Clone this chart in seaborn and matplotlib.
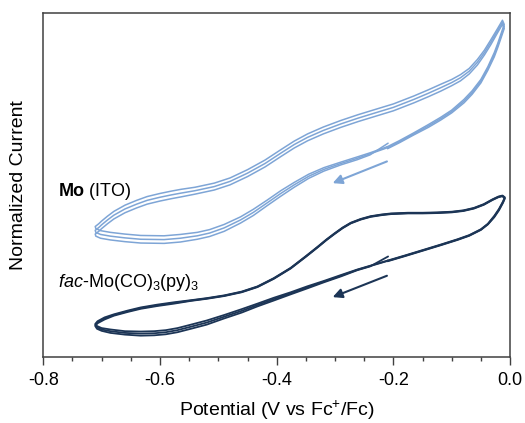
import numpy as np
import pandas as pd
import matplotlib
matplotlib.use("Agg")
import matplotlib.pyplot as plt
import seaborn as sns

# ---- data (potential in V vs Fc+/Fc, current normalized 0..1) ----
# Mo (ITO): one CV loop, cathodic sweep from -0.21 V, anodic sweep, return to -0.21 V
ito_cath_v = [-0.210, -0.240, -0.262, -0.290, -0.319, -0.345, -0.370, -0.393, -0.416, -0.440,
              -0.462, -0.490, -0.515, -0.536, -0.565, -0.593, -0.633, -0.660, -0.685, -0.702,
              -0.710, -0.711]
ito_cath_i = [0.608, 0.590, 0.577, 0.562, 0.545, 0.525, 0.500, 0.475, 0.448, 0.420,
              0.398, 0.375, 0.360, 0.352, 0.345, 0.341, 0.342, 0.346, 0.351, 0.356,
              0.362, 0.368]
ito_anod_v = [-0.705, -0.700, -0.690, -0.679, -0.660, -0.640, -0.622, -0.600, -0.580, -0.564,
              -0.540, -0.507, -0.480, -0.450, -0.420, -0.393, -0.370, -0.347, -0.320, -0.290,
              -0.260, -0.233, -0.200, -0.165, -0.140, -0.119, -0.100, -0.085, -0.070, -0.056,
              -0.044, -0.033, -0.022, -0.013]
ito_anod_i = [0.376, 0.384, 0.398, 0.412, 0.430, 0.444, 0.455, 0.464, 0.471, 0.476,
              0.483, 0.495, 0.510, 0.534, 0.562, 0.592, 0.617, 0.638, 0.658, 0.677,
              0.694, 0.708, 0.725, 0.748, 0.766, 0.782, 0.797, 0.811, 0.830, 0.856,
              0.884, 0.914, 0.946, 0.972]
ito_back_v = [-0.010, -0.015, -0.021, -0.027, -0.038, -0.050, -0.065, -0.079, -0.100, -0.119,
              -0.140, -0.165, -0.190, -0.210]
ito_back_i = [0.960, 0.935, 0.905, 0.878, 0.838, 0.801, 0.768, 0.743, 0.713, 0.692,
              0.671, 0.648, 0.625, 0.608]
# separation between successive cycles
ito_cath_spread = [0.003, 0.003, 0.004, 0.004, 0.005, 0.006, 0.007, 0.008, 0.008, 0.009,
                   0.009, 0.010, 0.010, 0.010, 0.011, 0.011, 0.011, 0.011, 0.011, 0.011,
                   0.011, 0.011]
ito_anod_spread = [0.011] * 10 + [0.010] * 16 + [0.009, 0.009, 0.008, 0.008, 0.007, 0.007,
                                                 0.006, 0.006]
ito_back_spread = [0.006, 0.006, 0.006, 0.006, 0.005, 0.005, 0.005, 0.005, 0.004, 0.004,
                   0.004, 0.003, 0.003, 0.003]
ito_start = (-0.209, 0.621)

# fac-Mo(CO)3(py)3
fac_cath_v = [-0.210, -0.240, -0.262, -0.290, -0.319, -0.348, -0.376, -0.405, -0.433, -0.460,
              -0.490, -0.520, -0.547, -0.570, -0.590, -0.610, -0.633, -0.660, -0.685, -0.700,
              -0.708, -0.711]
fac_cath_i = [0.279, 0.264, 0.253, 0.236, 0.219, 0.202, 0.185, 0.168, 0.151, 0.134,
              0.117, 0.100, 0.088, 0.078, 0.072, 0.069, 0.068, 0.070, 0.075, 0.080,
              0.086, 0.093]
fac_anod_v = [-0.707, -0.695, -0.679, -0.655, -0.633, -0.605, -0.576, -0.547, -0.520, -0.490,
              -0.460, -0.433, -0.405, -0.376, -0.350, -0.330, -0.315, -0.301, -0.287, -0.273,
              -0.256, -0.239, -0.220, -0.204, -0.175, -0.150, -0.125, -0.100, -0.080, -0.062,
              -0.045, -0.030, -0.020, -0.013]
fac_anod_i = [0.101, 0.112, 0.122, 0.133, 0.142, 0.150, 0.157, 0.164, 0.170, 0.178,
              0.189, 0.204, 0.228, 0.258, 0.292, 0.319, 0.340, 0.358, 0.375, 0.389,
              0.400, 0.408, 0.413, 0.416, 0.418, 0.418, 0.419, 0.421, 0.425, 0.432,
              0.443, 0.457, 0.465, 0.468]
fac_back_v = [-0.009, -0.012, -0.019, -0.027, -0.038, -0.050, -0.070, -0.090, -0.118, -0.147,
              -0.180, -0.210]
fac_back_i = [0.462, 0.450, 0.428, 0.408, 0.386, 0.370, 0.353, 0.341, 0.326, 0.311,
              0.294, 0.279]
fac_cath_spread = [0.001, 0.001, 0.001, 0.002, 0.002, 0.003, 0.003, 0.004, 0.004, 0.005,
                   0.005, 0.006, 0.006, 0.006, 0.006, 0.006, 0.006, 0.005, 0.005, 0.004,
                   0.004, 0.003]
fac_anod_spread = [0.003, 0.003, 0.002, 0.002, 0.002, 0.002, 0.002] + [0.001] * 27
fac_back_spread = [0.002, 0.002, 0.002, 0.002] + [0.001] * 8
fac_start = (-0.209, 0.292)

# cycle index relative to the traced (middle) cycle
cycles = [-1, 0, 1]

# scan-direction arrows (start, tip)
ito_arrow = [(-0.211, 0.568), (-0.304, 0.505)]
fac_arrow = [(-0.211, 0.236), (-0.304, 0.174)]

x_ticks = [-0.8, -0.6, -0.4, -0.2, 0.0]
x_minor = np.arange(-0.8, 0.001, 0.05)

ito_color = "#7ea5d6"
fac_color = "#1c3556"


def build_frame(pot, cur, spread, start, name):
    rows = []
    for n, c in enumerate(cycles):
        xs = list(pot)
        ys = [y + c * s for y, s in zip(cur, spread)]
        if n == 0:
            xs[0], ys[0] = start
        for i, (x, y) in enumerate(zip(xs, ys)):
            rows.append({"sample": name, "cycle": n, "order": i,
                         "potential": x, "current": y})
    return pd.DataFrame(rows)


df = pd.concat([
    build_frame(ito_cath_v + ito_anod_v + ito_back_v,
                ito_cath_i + ito_anod_i + ito_back_i,
                ito_cath_spread + ito_anod_spread + ito_back_spread, ito_start, "ito"),
    build_frame(fac_cath_v + fac_anod_v + fac_back_v,
                fac_cath_i + fac_anod_i + fac_back_i,
                fac_cath_spread + fac_anod_spread + fac_back_spread, fac_start, "fac"),
], ignore_index=True)

sns.set_style("ticks")
plt.rcParams["font.family"] = ["Liberation Sans", "DejaVu Sans"]
plt.rcParams["axes.unicode_minus"] = False
plt.rcParams["mathtext.fontset"] = "custom"
plt.rcParams["mathtext.rm"] = "Liberation Sans"
plt.rcParams["mathtext.it"] = "Liberation Sans:italic"
plt.rcParams["mathtext.bf"] = "Liberation Sans:bold"
plt.rcParams["text.color"] = "black"
plt.rcParams["axes.labelcolor"] = "black"

fig = plt.figure(figsize=(5.25, 4.23), dpi=100)
ax = fig.add_axes([0.0825, 0.156, 0.889, 0.814])

for name, color, lw in [("ito", ito_color, 1.1), ("fac", fac_color, 1.3)]:
    sns.lineplot(data=df[df["sample"] == name], x="potential", y="current",
                 units="cycle", estimator=None, sort=False, color=color,
                 linewidth=lw, ax=ax, legend=False,
                 solid_joinstyle="round", solid_capstyle="round")

for (x0, y0), (x1, y1), color in [(ito_arrow[0], ito_arrow[1], ito_color),
                                  (fac_arrow[0], fac_arrow[1], fac_color)]:
    ax.annotate("", xy=(x1, y1), xytext=(x0, y0),
                arrowprops=dict(arrowstyle="-|>", color=color, lw=1.5,
                                mutation_scale=14, shrinkA=0, shrinkB=0))

ax.text(-0.775, 0.48, r"$\mathbf{Mo}$ (ITO)", fontsize=13, va="center", ha="left")
ax.text(-0.775, 0.215, r"$\mathit{fac}$-Mo(CO)$_3$(py)$_3$", fontsize=13,
        va="center", ha="left")

ax.set_xlim(-0.8, 0.0)
ax.set_ylim(0, 1)
ax.set_xticks(x_ticks)
ax.set_xticklabels([f"{t:.1f}" for t in x_ticks])
ax.set_xticks(x_minor, minor=True)
ax.set_yticks([])
ax.tick_params(axis="x", which="major", direction="out", length=6, width=1.0,
               labelsize=13, pad=5, color="#404040", labelcolor="black")
ax.tick_params(axis="x", which="minor", direction="out", length=3, width=1.0,
               color="#404040")
for sp in ax.spines.values():
    sp.set_visible(True)
    sp.set_color("#404040")
    sp.set_linewidth(1.1)

ax.set_xlabel(r"Potential (V vs Fc$^{+}$/Fc)", fontsize=14, labelpad=7)
ax.set_ylabel("Normalized Current", fontsize=14, labelpad=12)

fig.savefig("out.png", dpi=100)
